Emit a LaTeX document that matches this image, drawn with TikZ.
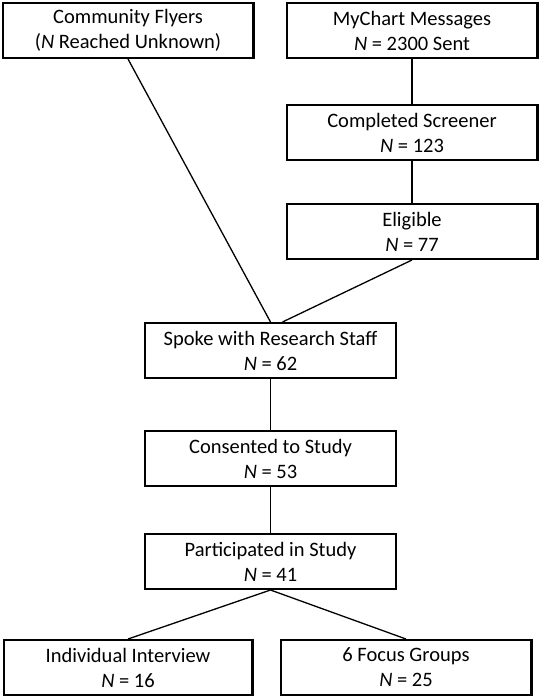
\documentclass[tikz,border=0pt]{standalone}
\usepackage{fontspec}
\setmainfont{Carlito}
\usepackage{tikz}

\begin{document}
\begin{tikzpicture}[x=1pt, y=-1pt,
    box/.style={draw, line width=2.4pt, inner sep=0pt, minimum width=250.6pt,
      minimum height=54.6pt, align=center, font=\fontsize{20.5}{25}\selectfont},
    link/.style={line width=1.3pt}]
  \useasboundingbox (0,0) rectangle (540,698);

  \node[box] (flyers) at (128, 30.5) {Community Flyers\\(\textit{N} Reached Unknown)};
  \node[box] (mychart) at (412, 30.5) {MyChart Messages\\\textit{N} = 2300 Sent};
  \node[box] (screener) at (412, 132.5) {Completed Screener\\\textit{N} = 123};
  \node[box] (eligible) at (412, 231.5) {Eligible\\\textit{N} = 77};
  \draw[link] (mychart) to (screener);
  \draw[link] (screener) to (eligible);

  \node[box] (spoke) at (270.5, 350.5) {Spoke with Research Staff\\\textit{N} = 62};
  \draw[link] (flyers.south) to (spoke.north);
  \draw[link] (eligible.south) to ([xshift=12pt]spoke.north);

  \node[box] (consent) at (270.5, 458.5) {Consented to Study\\\textit{N} = 53};
  \node[box] (joined) at (270.5, 561.5) {Participated in Study\\\textit{N} = 41};
  \draw[link] (spoke) to (consent);
  \draw[link] (consent) to (joined);

  \node[box, minimum width=248.6pt] (interview) at (128, 667.5) {Individual Interview\\\textit{N} = 16};
  \node[box] (focus) at (406, 667.5) {6 Focus Groups\\\textit{N} = 25};
  \draw[link] (joined.south) to (interview.north);
  \draw[link] (joined.south) to (focus.north);
\end{tikzpicture}
\end{document}
